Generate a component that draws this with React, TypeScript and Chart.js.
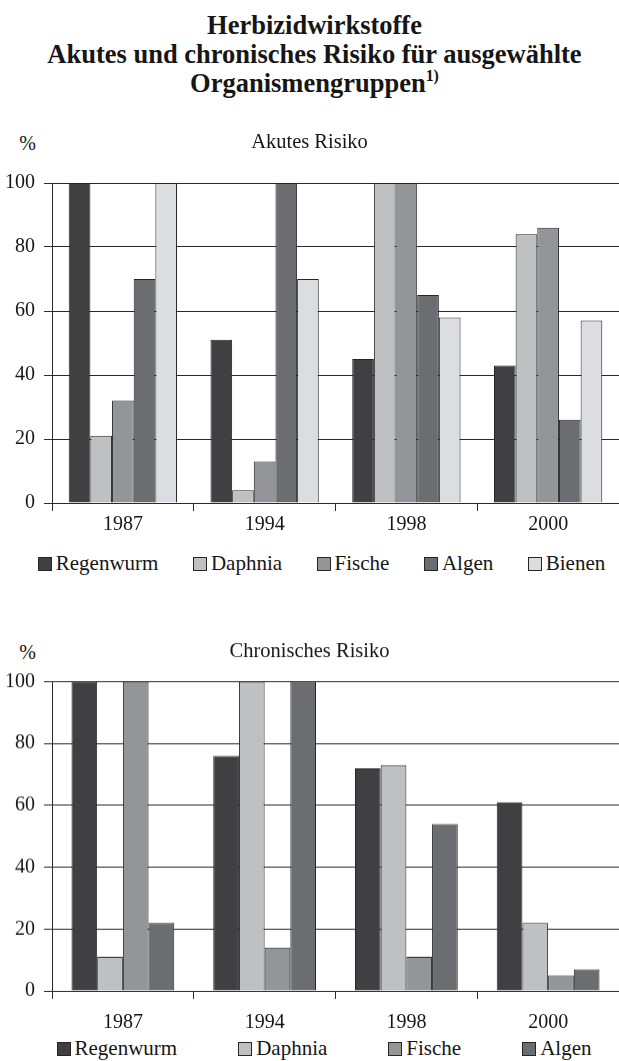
import React, { useEffect, useRef } from "react";
import { Chart, registerables } from "chart.js";

Chart.register(...registerables);

const FONT = '"Liberation Serif", "Times New Roman", serif';
const INK = "#161616";
const LINE = "#2a2a2a";

const years = ["1987", "1994", "1998", "2000"];
const seriesNames = ["Regenwurm", "Daphnia", "Fische", "Algen", "Bienen"];
const seriesColors = ["#404042", "#bfc0c2", "#939598", "#6c6d71", "#dcdde0"];
const yTicks = [0, 20, 40, 60, 80, 100];

const acuteRegenwurm = [100, 51, 45, 43];
const acuteDaphnia = [21, 4, 100, 84];
const acuteFische = [32, 13, 100, 86];
const acuteAlgen = [70, 100, 65, 26];
const acuteBienen = [100, 70, 58, 57];

const chronicRegenwurm = [100, 76, 72, 61];
const chronicDaphnia = [11, 100, 73, 22];
const chronicFische = [100, 14, 11, 5];
const chronicAlgen = [22, 100, 54, 7];

const acuteSeries = [acuteRegenwurm, acuteDaphnia, acuteFische, acuteAlgen, acuteBienen];
const chronicSeries = [chronicRegenwurm, chronicDaphnia, chronicFische, chronicAlgen];

type ChartProps = {
  title: string;
  series: number[][];
  top: number;
  height: number;
  titlePadTop: number;
  titlePadBottom: number;
  xLabelPad: number;
  catPct: number;
};

function BarChart(props: ChartProps) {
  const ref = useRef<HTMLCanvasElement | null>(null);
  useEffect(() => {
    if (!ref.current) return;
    const datasets = props.series.map((vals, i) => ({
      label: seriesNames[i],
      data: vals,
      backgroundColor: seriesColors[i],
      borderColor: "#262626",
      borderWidth: 1,
      categoryPercentage: props.catPct,
      barPercentage: 1,
    }));
    const chart = new Chart(ref.current, {
      type: "bar",
      data: { labels: years, datasets },
      options: {
        animation: false,
        responsive: false,
        maintainAspectRatio: false,
        layout: { padding: 0 },
        plugins: {
          legend: { display: false },
          tooltip: { enabled: false },
          title: {
            display: true,
            text: props.title,
            color: INK,
            font: { family: FONT, size: 20.5, weight: "normal" as any },
            padding: { top: props.titlePadTop, bottom: props.titlePadBottom },
          },
        },
        scales: {
          x: {
            afterFit: (s: any) => {
              s.height = 45;
            },
            grid: {
              display: true,
              drawOnChartArea: false,
              drawTicks: true,
              tickLength: 8,
              offset: true,
              color: LINE,
              lineWidth: 1,
            },
            border: { display: true, color: LINE, width: 1 },
            ticks: {
              color: INK,
              padding: props.xLabelPad,
              font: { family: FONT, size: 20 },
              maxRotation: 0,
            },
          },
          y: {
            min: 0,
            max: 100,
            afterFit: (s: any) => {
              s.width = 52;
            },
            afterBuildTicks: (s: any) => {
              s.ticks = yTicks.map((v) => ({ value: v }));
            },
            grid: {
              color: LINE,
              lineWidth: 1,
              drawTicks: true,
              tickLength: 8,
              tickColor: LINE,
            },
            border: { display: true, color: LINE, width: 1 },
            ticks: {
              color: INK,
              padding: 9,
              font: { family: FONT, size: 20 },
            },
          },
        },
      },
    });
    return () => chart.destroy();
  }, []);
  return (
    <canvas
      ref={ref}
      width={619}
      height={props.height}
      style={{ position: "absolute", left: 0, top: props.top, width: 619, height: props.height, display: "block" }}
    />
  );
}

function Legend(props: { count: number; top: number; left: number; width: number; gap: number }) {
  return (
    <div
      style={{
        position: "absolute",
        top: props.top,
        left: props.left,
        width: props.width,
        display: "flex",
        justifyContent: "center",
        alignItems: "center",
        gap: props.gap,
        fontFamily: FONT,
        fontSize: 21,
        lineHeight: "24px",
        color: INK,
        whiteSpace: "nowrap",
      }}
    >
      {seriesNames.slice(0, props.count).map((n, i) => (
        <div key={n} style={{ display: "flex", alignItems: "center" }}>
          <span
            style={{
              display: "inline-block",
              width: 12,
              height: 12,
              border: "1px solid #262626",
              background: seriesColors[i],
              marginRight: 4,
              marginTop: 2,
            }}
          />
          <span>{n}</span>
        </div>
      ))}
    </div>
  );
}

function Percent(props: { top: number }) {
  return (
    <div
      style={{
        position: "absolute",
        top: props.top,
        left: 0,
        width: 36,
        textAlign: "right",
        fontFamily: FONT,
        fontSize: 20,
        lineHeight: "24px",
        color: INK,
      }}
    >
      %
    </div>
  );
}

export default function App() {
  return (
    <div style={{ position: "absolute", left: 0, top: 0, width: 619, height: 1061, background: "#fff", overflow: "hidden" }}>
      <div
        style={{
          position: "absolute",
          top: 10.5,
          left: 0,
          width: 619,
          paddingLeft: 10,
          boxSizing: "border-box",
          textAlign: "center",
          fontFamily: FONT,
          fontWeight: "bold",
          fontSize: 26.5,
          lineHeight: "29px",
          color: INK,
        }}
      >
        <div>Herbizidwirkstoffe</div>
        <div>Akutes und chronisches Risiko für ausgewählte</div>
        <div>
          Organismengruppen<sup style={{ fontSize: "0.6em", lineHeight: 0, verticalAlign: "0.7em" }}>1)</sup>
        </div>
      </div>

      <Percent top={131} />
      <BarChart
        title="Akutes Risiko"
        series={acuteSeries}
        top={120}
        height={428}
        titlePadTop={10.7}
        titlePadBottom={27.7}
        xLabelPad={2}
        catPct={0.764}
      />
      <Legend count={5} top={551} left={24} width={595} gap={34.5} />

      <Percent top={640} />
      <BarChart
        title="Chronisches Risiko"
        series={chronicSeries}
        top={620}
        height={415.5}
        titlePadTop={19.7}
        titlePadBottom={17.2}
        xLabelPad={11.5}
        catPct={0.725}
      />
      <Legend count={4} top={1036} left={29} width={590} gap={61} />
    </div>
  );
}
